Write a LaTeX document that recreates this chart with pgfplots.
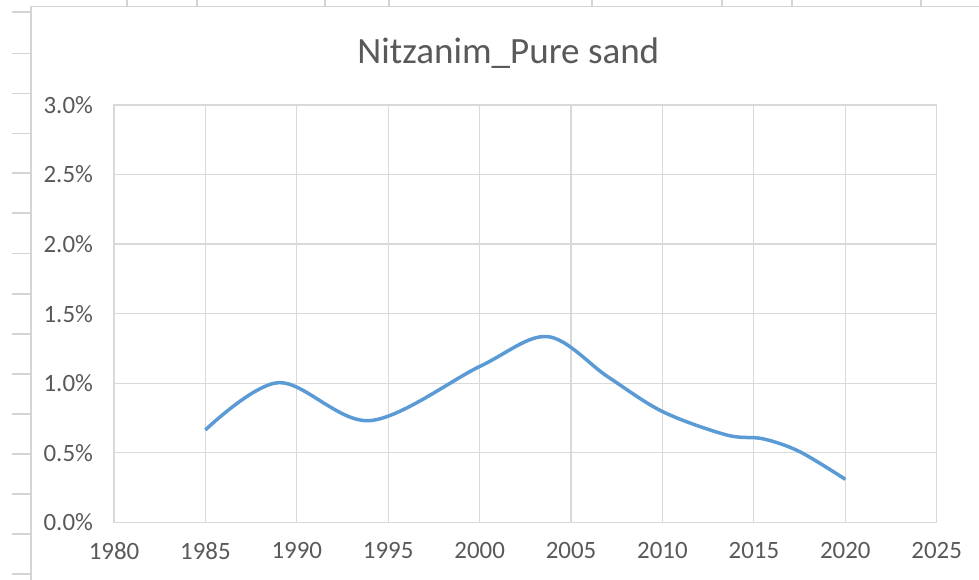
\documentclass[border=0pt]{standalone}
\usepackage{fontspec}
\setmainfont{Carlito}
\usepackage{pgfplots}
\pgfplotsset{compat=1.18}
\definecolor{txtgray}{HTML}{595959}
\definecolor{gridgray}{HTML}{D9D9D9}
\definecolor{sheetgray}{HTML}{D4D4D4}
\definecolor{lineblue}{HTML}{5B9BD5}

\begin{document}
\begin{tikzpicture}[x=0.5bp,y=0.5bp]
% canvas in pixel units, y measured upwards (580 - pixel row)
\path[use as bounding box] (0,0) rectangle (979,580);
% spreadsheet cells around the chart
\foreach \r in {12,53.6,93.5,133.5,173,213,253.6,294,334,374,414,454,494,534,574}
  \draw[sheetgray,line width=0.6bp] (12,580-\r) -- (31,580-\r);
\foreach \c in {127,197,325,389,592,722,792,921}
  \draw[sheetgray,line width=0.6bp] (\c,580) -- (\c,573.3);
\draw[sheetgray,line width=0.8bp] (31,0) -- (31,573.3) -- (979,573.3);
\begin{axis}[
  at={(57bp,28.85bp)},anchor=south west,
  scale only axis,width=411.35bp,height=208.65bp,
  xmin=1980,xmax=2025,ymin=0,ymax=3,
  xtick={1980,1985,...,2025},ytick={0,0.5,...,3},
  grid=major,major grid style={gridgray,line width=0.6bp},
  axis line style={gridgray,line width=0.7bp},
  tick style={draw=none},
  tick label style={font=\fontsize{12.5}{14}\selectfont,text=txtgray},
  /pgf/number format/assume math mode=true,
  xticklabel={\pgfmathprintnumber[1000 sep={},fixed,precision=0]{\tick}},
  yticklabel={\pgfmathprintnumber[fixed,fixed zerofill,precision=1]{\tick}\%},
  xticklabel style={yshift=-6.5bp},
  yticklabel style={xshift=-7bp},
  title={Nitzanim\_Pure sand},
  title style={font=\fontsize{18.6}{21}\selectfont,text=txtgray,yshift=9bp,xshift=-8.5bp},
]
\addplot[lineblue,line width=1.75bp,smooth,tension=0.55] table {
x y
1985 0.664
1989 1.004
1994 0.731
2000 1.12
2003.7 1.335
2007 1.047
2010 0.796
2013.5 0.628
2015.5 0.600
2017.5 0.508
2020 0.309
};
\end{axis}
\end{tikzpicture}
\end{document}
